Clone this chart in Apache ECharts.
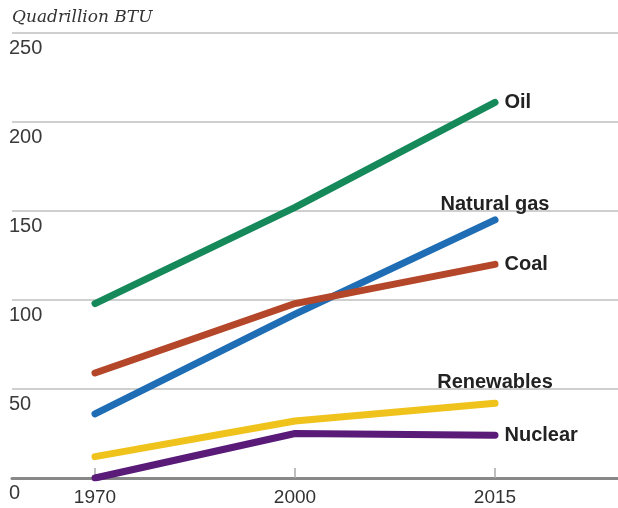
<!DOCTYPE html>
<html>
<head>
<meta charset="utf-8">
<script src="https://cdn.jsdelivr.net/npm/echarts@6/dist/echarts.min.js"></script>
<style>html,body{margin:0;padding:0;background:#fff;}#c{width:618px;height:508px;}</style>
</head>
<body>
<div id="c"></div>
<script>
const years = ['1970', '2000', '2015'];
const oil = [98, 152, 211];
const naturalGas = [36, 92, 145];
const coal = [59, 98, 120];
const renewables = [12, 32, 42];
const nuclear = [0, 25, 24];
const yTicks = [0, 50, 100, 150, 200, 250];

const seriesDefs = [
  { name: 'Oil', values: oil, color: '#16895a', pos: 'right' },
  { name: 'Natural gas', values: naturalGas, color: '#1f6db4', pos: 'top', dist: 5 },
  { name: 'Coal', values: coal, color: '#b4472a', pos: 'right' },
  { name: 'Renewables', values: renewables, color: '#efc31c', pos: 'top', dist: 10 },
  { name: 'Nuclear', values: nuclear, color: '#5a1a78', pos: 'right' }
];

const chart = echarts.init(document.getElementById('c'));
chart.setOption({
  animation: false,
  title: {
    text: 'Quadrillion BTU', left: 7, top: 4,
    textStyle: { fontFamily: 'DejaVu Serif', fontStyle: 'italic', fontWeight: 'normal', fontSize: 17, color: '#333' }
  },
  grid: { left: 12, right: 0, top: 33, bottom: 30, containLabel: false },
  xAxis: {
    type: 'value', min: -0.415, max: 2.615,
    axisLine: { show: true, lineStyle: { color: '#888', width: 3 } },
    axisTick: { show: true, inside: true, length: 10, customValues: years.map((y, i) => i), lineStyle: { color: '#aaa', width: 1.5 } },
    axisLabel: { customValues: years.map((y, i) => i), formatter: v => years[Math.round(v)], fontFamily: 'Liberation Sans', fontSize: 19, color: '#333', margin: 10 },
    splitLine: { show: false }
  },
  yAxis: {
    type: 'value', min: yTicks[0], max: yTicks[yTicks.length - 1], interval: 50,
    axisLine: { show: false }, axisTick: { show: false },
    axisLabel: { inside: true, margin: -3, align: 'left', verticalAlign: 'top', padding: [5, 0, 0, 0], fontFamily: 'Liberation Sans', fontSize: 20, color: '#3a3a3a' },
    splitLine: { lineStyle: { color: '#cfcfcf', width: 2 } }
  },
  series: seriesDefs.map(s => ({
    name: s.name, type: 'line',
    symbol: 'circle', symbolSize: 1, showSymbol: true,
    itemStyle: { color: s.color },
    lineStyle: { color: s.color, width: 7, cap: 'round', join: 'round' },
    data: s.values.map((v, i) => {
      const d = { value: [i, v] };
      if (i === s.values.length - 1) {
        d.label = { show: true, formatter: s.name, position: s.pos, distance: s.dist || 9,
          fontFamily: 'Liberation Sans', fontWeight: 'bold', fontSize: 20, color: '#222' };
      }
      return d;
    }),
    z: 2
  }))
});
</script>
</body>
</html>
